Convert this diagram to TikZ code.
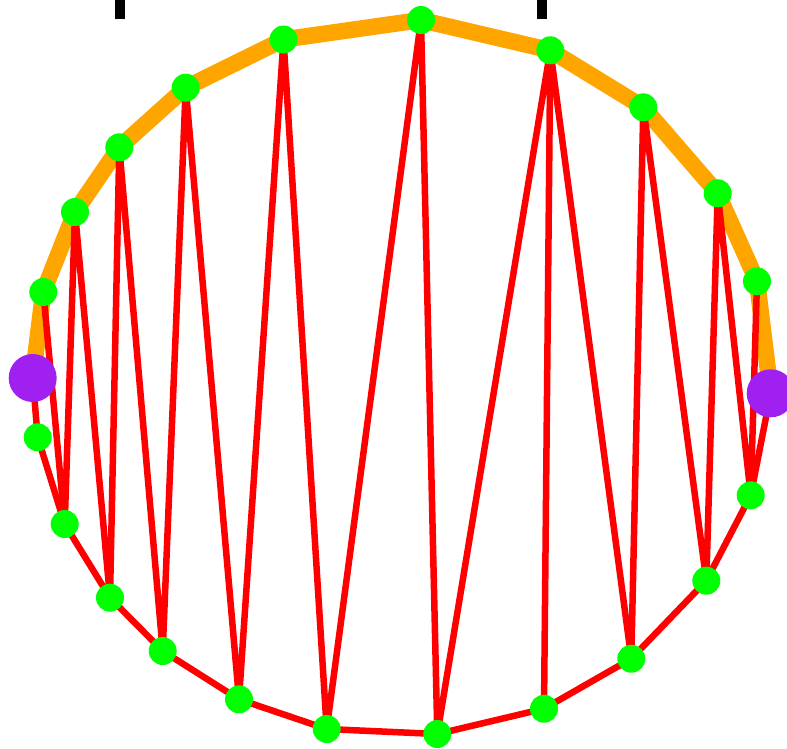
\documentclass[tikz,border=0pt]{standalone}
\definecolor{gr}{RGB}{0,255,0}
\definecolor{rd}{RGB}{255,0,0}
\definecolor{og}{RGB}{255,165,0}
\definecolor{pu}{RGB}{160,32,240}
\begin{document}
\begin{tikzpicture}[x=1pt,y=-1pt,
  vtx/.style={circle,fill=gr,draw=none,minimum size=28pt,inner sep=0pt},
  endpt/.style={circle,fill=pu,draw=none,minimum size=48pt,inner sep=0pt},
  topedge/.style={og,line width=16.5pt,line join=round},
  redge/.style={rd,line width=6.5pt,line join=round,line cap=round},
  blackbar/.style={fill=black,draw=none}]
\useasboundingbox (0,0) rectangle (787,748);
\clip (0,0) rectangle (787,748);
% coordinates
\coordinate (T0) at (32.7,378);
\coordinate (T1) at (43.3,292);
\coordinate (T2) at (75,212);
\coordinate (T3) at (119.3,147.3);
\coordinate (T4) at (185.7,87.7);
\coordinate (T5) at (283.5,39.5);
\coordinate (T6) at (421,20);
\coordinate (T7) at (550.3,50.3);
\coordinate (T8) at (643.3,107.3);
\coordinate (T9) at (717.7,193.3);
\coordinate (T10) at (757,281.3);
\coordinate (T11) at (770.7,393.3);
\coordinate (B1) at (37.7,437.3);
\coordinate (B2) at (64.7,524);
\coordinate (B3) at (110,597.7);
\coordinate (B4) at (162.7,651);
\coordinate (B5) at (239,699.3);
\coordinate (B6) at (326.7,729);
\coordinate (B7) at (437.3,734);
\coordinate (B8) at (544,708.7);
\coordinate (B9) at (631.3,658.7);
\coordinate (B10) at (706.3,580.7);
\coordinate (B11) at (750.7,495.3);
% black marks at top
\fill[blackbar] (115.3,0) rectangle (125.3,19);
\fill[blackbar] (537.3,0) rectangle (547.3,19);
% orange top chain
\draw[topedge] (T0) -- (T1) -- (T2) -- (T3) -- (T4) -- (T5) -- (T6) -- (T7) -- (T8) -- (T9) -- (T10) -- (T11);
% red bottom chain
\draw[redge] (T0) -- (B1) -- (B2) -- (B3) -- (B4) -- (B5) -- (B6) -- (B7) -- (B8) -- (B9) -- (B10) -- (B11) -- (T11);
% zigzag
\draw[redge] (T1) -- (B2) -- (T2) -- (B3) -- (T3) -- (B4) -- (T4) -- (B5) -- (T5) -- (B6) -- (T6) -- (B7) -- (T7) -- (B8);
\draw[redge] (T7) -- (B9) -- (T8) -- (B10) -- (T9) -- (B11) -- (T10);
% nodes
\foreach \p in {T1,T2,T3,T4,T5,T6,T7,T8,T9,T10,B1,B2,B3,B4,B5,B6,B7,B8,B9,B10,B11}
  \node[vtx] (n\p) at (\p) {};
\node[endpt] (nT0) at (T0) {};
\node[endpt] (nT11) at (T11) {};
\end{tikzpicture}
\end{document}
